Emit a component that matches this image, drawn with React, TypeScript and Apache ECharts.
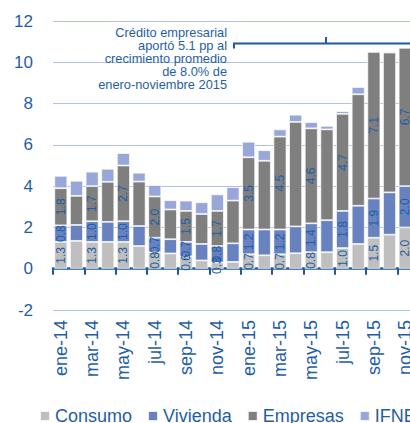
import React, { useEffect, useRef } from "react";
import * as echarts from "echarts";

const months = [
  "ene-14", "feb-14", "mar-14", "abr-14", "may-14", "jun-14", "jul-14", "ago-14",
  "sep-14", "oct-14", "nov-14", "dic-14", "ene-15", "feb-15", "mar-15", "abr-15",
  "may-15", "jun-15", "jul-15", "ago-15", "sep-15", "oct-15", "nov-15",
];
const consumo = [1.3, 1.35, 1.3, 1.3, 1.3, 1.1, 0.8, 0.74, 0.6, 0.4, 0.3, 0.33, 0.7, 0.65, 0.7, 0.75, 0.8, 0.8, 1.0, 1.2, 1.5, 1.65, 2.0];
const vivienda = [0.8, 0.77, 1.0, 0.97, 1.0, 0.97, 0.7, 0.69, 0.7, 0.8, 0.8, 0.9, 1.2, 1.25, 1.2, 1.3, 1.4, 1.55, 1.8, 1.85, 1.9, 2.05, 2.0];
const empresas = [1.8, 1.41, 1.7, 1.94, 2.7, 2.15, 2.0, 1.44, 1.5, 1.45, 1.7, 2.07, 3.5, 3.33, 4.5, 5.06, 4.6, 4.4, 4.7, 5.4, 7.1, 6.77, 6.7];
const ifnb = [0.6, 0.73, 0.7, 0.63, 0.6, 0.43, 0.55, 0.45, 0.5, 0.57, 0.8, 0.65, 0.75, 0.51, 0.35, 0.35, 0.3, 0.17, 0.13, 0.35, 0.05, 0.05, 0.03];
const yTicks = { min: -2, max: 12, interval: 2 };
const annotationLines = [
  "Crédito empresarial",
  "aportó 5.1 pp al",
  "crecimiento promedio",
  "de 8.0% de",
  "enero-noviembre 2015",
];

const FONT = '"Liberation Sans", Arial, sans-serif';
const BLUE = "#1F5EA6";
const AXIS = "#1F5A9E";

export default function App() {
  const ref = useRef<HTMLDivElement>(null);
  useEffect(() => {
    if (!ref.current) return;
    const chart = echarts.init(ref.current, null, { renderer: "svg" });
    const label = {
      show: true,
      position: "inside",
      rotate: 90,
      fontSize: 12,
      fontFamily: FONT,
      color: BLUE,
      formatter: (p: any) => (p.dataIndex % 2 === 0 ? Number(p.value).toFixed(1) : ""),
    };
    const itemBase = { borderColor: "rgba(255,255,255,0.85)", borderWidth: 0.8 };
    const mk = (name: string, data: number[], color: string, withLabel: boolean) => ({
      name,
      type: "bar",
      stack: "total",
      data,
      xAxisIndex: 0,
      barCategoryGap: "17%",
      itemStyle: { ...itemBase, color },
      label: withLabel ? label : { show: false },
      emphasis: { disabled: true },
    });
    chart.setOption({
      animation: false,
      grid: { left: 53, top: 21, bottom: 113, width: 360, containLabel: false },
      legend: {
        left: 34,
        top: 402,
        itemWidth: 10,
        itemHeight: 10,
        itemGap: 15,
        icon: "rect",
        textStyle: { fontSize: 18, fontFamily: FONT, color: BLUE },
        data: ["Consumo", "Vivienda", "Empresas", "IFNB"],
      },
      xAxis: [
        {
          type: "category",
          data: months,
          position: "bottom",
          axisLine: { show: false, onZero: false },
          axisTick: { show: false },
          axisLabel: { interval: 1, rotate: 90, fontSize: 18, fontFamily: FONT, color: BLUE, margin: 10 },
          splitLine: { show: false },
        },
        {
          type: "category",
          data: months,
          position: "bottom",
          axisLine: { show: true, onZero: true, onZeroAxisIndex: 0, lineStyle: { color: AXIS, width: 2.5 } },
          axisTick: { show: true, interval: 1, length: 6, lineStyle: { color: AXIS, width: 2 } },
          axisLabel: { show: false },
          splitLine: { show: false },
        },
      ],
      yAxis: {
        type: "value",
        min: yTicks.min,
        max: yTicks.max,
        interval: yTicks.interval,
        axisLine: { show: false },
        axisTick: { show: false },
        axisLabel: { fontSize: 17, fontFamily: FONT, color: BLUE, margin: 20 },
        splitLine: { lineStyle: { color: "#B3C1E4", width: 1.2 } },
      },
      series: [
        mk("Consumo", consumo, "#BFBFBF", true),
        mk("Vivienda", vivienda, "#6882C0", true),
        mk("Empresas", empresas, "#7F7F7F", true),
        mk("IFNB", ifnb, "#98A7D7", false),
      ],
      graphic: [
        {
          type: "text",
          x: 227,
          y: 26.5,
          style: {
            text: annotationLines.join("\n"),
            align: "right",
            verticalAlign: "top",
            fontSize: 12.8,
            lineHeight: 12.8,
            fontFamily: FONT,
            fill: BLUE,
          },
          z: 100,
        },
        {
          type: "polyline",
          shape: { points: [[234, 48.5], [234, 43.5], [420, 43.5]] },
          style: { stroke: AXIS, lineWidth: 2, fill: "none" },
          z: 100,
        },
        {
          type: "line",
          shape: { x1: 326, y1: 43.5, x2: 326, y2: 37 },
          style: { stroke: AXIS, lineWidth: 2 },
          z: 100,
        },
      ],
    });
    return () => chart.dispose();
  }, []);
  return (
    <div style={{ position: "absolute", left: 0, top: 0, width: 410, height: 423, overflow: "hidden", background: "#fff" }}>
      <div ref={ref} style={{ width: 440, height: 423 }} />
    </div>
  );
}
